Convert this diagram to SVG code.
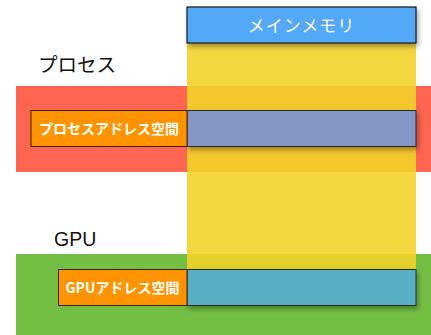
<svg xmlns="http://www.w3.org/2000/svg" width="431" height="335" viewBox="0 0 431 335">
<defs>
<filter id="sh" x="-10%" y="-30%" width="125%" height="190%">
<feDropShadow dx="2" dy="3" stdDeviation="2.5" flood-color="#000" flood-opacity="0.35"/>
</filter>
</defs>
<style>
.jp{font-family:"Noto Sans CJK JP","Noto Sans",sans-serif}
.lbl{font-family:"Liberation Sans","Noto Sans CJK JP",sans-serif;font-size:19.5px;fill:#111}
.addr{font-size:14px;font-weight:bold;fill:#fff;text-anchor:middle}
.org{fill:#FF9400;stroke:#3a2000;stroke-width:1}
.bar{stroke:#2b2b2b;stroke-width:1}
</style>
<g id="process-band"><rect x="16" y="86" width="415" height="86" fill="#FF6551"/></g>
<g id="gpu-band"><rect x="16" y="254" width="415" height="81" fill="#72BF44"/></g>
<g id="memory-column"><rect x="187" y="43" width="229" height="226" fill="#F3D129" fill-opacity="0.9"/></g>
<g id="main-memory">
<rect x="187" y="7" width="229" height="36" fill="#52A8F8" stroke="#1a1a1a" stroke-width="1.2" filter="url(#sh)"/>
<text class="jp" x="301.5" y="32" font-size="17" fill="#fff" text-anchor="middle" letter-spacing="1">メインメモリ</text>
</g>
<g id="process-label"><text class="lbl" x="38" y="72">プロセス</text></g>
<g id="process-address-space">
<rect x="187" y="110.5" width="229" height="36" fill="#8496C6" class="bar" filter="url(#sh)"/>
<rect x="31" y="110.5" width="156" height="36" class="org"/>
<text class="jp addr" x="109" y="133.5">プロセスアドレス空間</text>
</g>
<g id="gpu-label"><text class="lbl" x="54" y="246" font-size="20">GPU</text></g>
<g id="gpu-address-space">
<rect x="187" y="269.5" width="229" height="36" fill="#58AEC3" class="bar" filter="url(#sh)"/>
<rect x="58.5" y="269.5" width="128.5" height="36" class="org"/>
<text class="jp addr" x="122.5" y="292.5">GPUアドレス空間</text>
</g>
<g id="connectors"/>
</svg>
